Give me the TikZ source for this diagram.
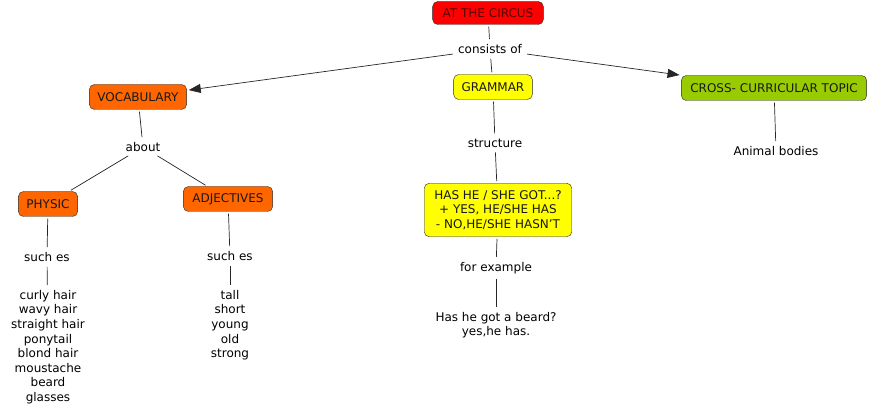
\documentclass[tikz,border=0pt]{standalone}
\usepackage{fontspec}
\setmainfont{DejaVu Sans}
\usepackage{tikz}
\usetikzlibrary{arrows.meta,positioning}

\definecolor{circusred}{HTML}{FF0000}
\definecolor{vocorange}{HTML}{FF6600}
\definecolor{gramyellow}{HTML}{FFFF00}
\definecolor{topicgreen}{HTML}{99CC00}

\tikzset{
  concept/.style={draw=black!85, rounded corners=5pt, inner xsep=8pt, minimum height=25pt, text=black!90},
  linkword/.style={inner sep=3pt, align=center},
  link/.style={black!85, line width=0.7pt, shorten <=2pt, shorten >=2pt},
  linkarrow/.style={link, -{Triangle[length=12pt,width=9pt]}}
}

\begin{document}
\begin{tikzpicture}[x=1pt, y=-1pt, font=\fontsize{12}{14.6}\selectfont]
  \useasboundingbox (0,0) rectangle (871,414);
  % concepts
  \node[concept, fill=circusred, text=red!35!black, minimum height=23pt, inner xsep=10pt] (circus) at (488,13) {AT THE CIRCUS};
  \node[concept, fill=vocorange] (vocab) at (138,97) {VOCABULARY};
  \node[concept, fill=gramyellow] (grammar) at (493,87) {GRAMMAR};
  \node[concept, fill=topicgreen, inner xsep=9pt] (topic) at (774,88) {CROSS- CURRICULAR TOPIC};
  \node[concept, fill=vocorange] (physic) at (48,204) {PHYSIC};
  \node[concept, fill=vocorange, inner xsep=9pt] (adject) at (228,199) {ADJECTIVES};
  \node[concept, fill=gramyellow, align=center, inner xsep=10pt, inner ysep=7pt] (hasgot) at (498,210) {HAS HE / SHE GOT...?\\+ YES, HE/SHE HAS\\- NO,HE/SHE HASN'T};
  % plain texts
  \node[linkword] (consists) at (490,49) {consists of};
  \node[linkword] (about) at (143,147) {about};
  \node[linkword] (suchl) at (47,257) {such es};
  \node[linkword] (suchr) at (230,256) {such es};
  \node[linkword] (struct) at (495,143) {structure};
  \node[linkword] (forex) at (496,268) {for example};
  \node[linkword, anchor=north] (hairs) at (48,287) {curly hair\\wavy hair\\straight hair\\ponytail\\blond hair\\moustache\\beard\\glasses};
  \node[linkword, anchor=north] (sizes) at (230,287) {tall\\short\\young\\old\\strong};
  \node[linkword, anchor=north] (beard) at (496,309) {Has he got a beard?\\yes,he has.};
  \node[linkword] (animal) at (776,151) {Animal bodies};
  % connections
  \draw[link] (circus) -- (consists);
  \draw[linkarrow] (consists) -- (vocab);
  \draw[link] (consists) -- (grammar);
  \draw[linkarrow] (consists) -- (topic);
  \draw[link] (vocab) -- (about);
  \draw[link] (about) -- (physic);
  \draw[link] (about) -- (adject);
  \draw[link] (physic) -- (suchl);
  \draw[link] (suchl) -- (hairs);
  \draw[link] (adject) -- (suchr);
  \draw[link] (suchr) -- (sizes);
  \draw[link] (grammar) -- (struct);
  \draw[link] (struct) -- (hasgot);
  \draw[link] (hasgot) -- (forex);
  \draw[link] (forex) -- (beard);
  \draw[link] (topic) -- (animal);
\end{tikzpicture}
\end{document}
